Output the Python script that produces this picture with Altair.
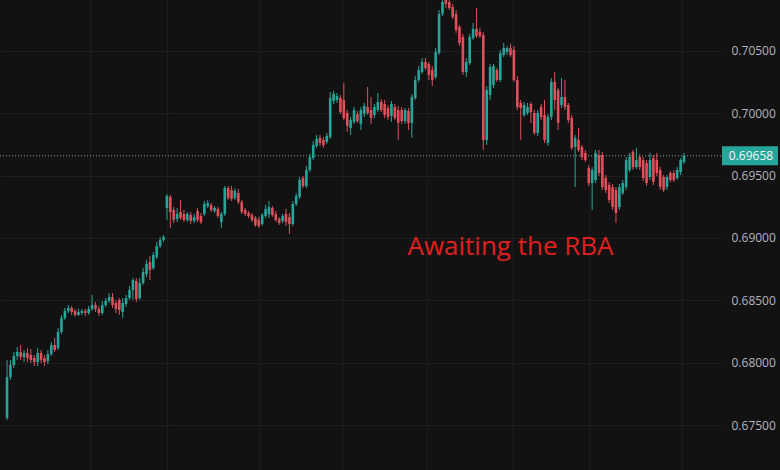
import altair as alt
import pandas as pd

# AUD/USD candles (oldest first)
opens = [
    0.67558, 0.67886, 0.67982, 0.68054, 0.68086, 0.68046, 0.68078, 0.68062, 0.68038, 0.68006,
    0.68078, 0.68038, 0.68014, 0.68070, 0.68142, 0.68118, 0.68247, 0.68359, 0.68415, 0.68439,
    0.68415, 0.68383, 0.68399, 0.68415, 0.68399, 0.68431, 0.68463, 0.68431, 0.68399, 0.68463,
    0.68495, 0.68527, 0.68479, 0.68503, 0.68407, 0.68471, 0.68519, 0.68583, 0.68655, 0.68519,
    0.68639, 0.68711, 0.68807, 0.68759, 0.68847, 0.68935, 0.68984, 0.69240, 0.69328, 0.69224,
    0.69152, 0.69208, 0.69192, 0.69144, 0.69184, 0.69136, 0.69216, 0.69176, 0.69192, 0.69256,
    0.69264, 0.69216, 0.69232, 0.69128, 0.69192, 0.69400, 0.69384, 0.69320, 0.69360, 0.69288,
    0.69224, 0.69200, 0.69184, 0.69160, 0.69144, 0.69112, 0.69176, 0.69192, 0.69240, 0.69192,
    0.69152, 0.69136, 0.69192, 0.69168, 0.69112, 0.69272, 0.69328, 0.69480, 0.69416, 0.69544,
    0.69640, 0.69737, 0.69801, 0.69785, 0.69769, 0.69809, 0.70097, 0.70105, 0.70121, 0.70105,
    0.70001, 0.69881, 0.69929, 0.69993, 0.69913, 0.69993, 0.70049, 0.70025, 0.69985, 0.70025,
    0.70089, 0.70073, 0.70041, 0.69977, 0.70049, 0.70025, 0.70025, 0.69937, 0.70017, 0.69921,
    0.70121, 0.70265, 0.70329, 0.70409, 0.70393, 0.70345, 0.70289, 0.70481, 0.70794, 0.70906,
    0.70890, 0.70850, 0.70794, 0.70690, 0.70610, 0.70329, 0.70401, 0.70602, 0.70674, 0.70650,
    0.70626, 0.69785, 0.70145, 0.70225, 0.70345, 0.70265, 0.70465, 0.70489, 0.70521, 0.70506,
    0.70265, 0.70081, 0.69985, 0.70001, 0.70073, 0.70001, 0.69841, 0.70049, 0.69985, 0.69761,
    0.69969, 0.70249, 0.70185, 0.70065, 0.70129, 0.70065, 0.69961, 0.69729, 0.69785, 0.69729,
    0.69681, 0.69560, 0.69440, 0.69464, 0.69664, 0.69664, 0.69480, 0.69424, 0.69408, 0.69384,
    0.69248, 0.69360, 0.69408, 0.69544, 0.69689, 0.69568, 0.69648, 0.69624, 0.69600, 0.69488,
    0.69640, 0.69624, 0.69544, 0.69488, 0.69408, 0.69520, 0.69520, 0.69480, 0.69528, 0.69608,
]
highs = [
    0.68022, 0.68022, 0.68086, 0.68126, 0.68142, 0.68102, 0.68118, 0.68110, 0.68062, 0.68118,
    0.68102, 0.68062, 0.68102, 0.68167, 0.68199, 0.68279, 0.68383, 0.68439, 0.68463, 0.68455,
    0.68431, 0.68431, 0.68431, 0.68431, 0.68455, 0.68543, 0.68487, 0.68455, 0.68495, 0.68519,
    0.68559, 0.68559, 0.68503, 0.68519, 0.68519, 0.68543, 0.68615, 0.68679, 0.68679, 0.68679,
    0.68759, 0.68823, 0.68855, 0.68887, 0.68967, 0.69008, 0.69024, 0.69352, 0.69344, 0.69248,
    0.69240, 0.69304, 0.69224, 0.69208, 0.69208, 0.69192, 0.69240, 0.69200, 0.69296, 0.69304,
    0.69280, 0.69256, 0.69248, 0.69208, 0.69416, 0.69416, 0.69416, 0.69400, 0.69392, 0.69304,
    0.69240, 0.69216, 0.69200, 0.69176, 0.69168, 0.69200, 0.69264, 0.69296, 0.69256, 0.69216,
    0.69168, 0.69192, 0.69232, 0.69200, 0.69296, 0.69360, 0.69488, 0.69496, 0.69576, 0.69673,
    0.69777, 0.69825, 0.69825, 0.69809, 0.69841, 0.70169, 0.70177, 0.70161, 0.70145, 0.70241,
    0.70025, 0.69969, 0.70049, 0.70017, 0.70049, 0.70081, 0.70209, 0.70129, 0.70073, 0.70161,
    0.70113, 0.70105, 0.70065, 0.70097, 0.70073, 0.70057, 0.70049, 0.70041, 0.70041, 0.70153,
    0.70297, 0.70377, 0.70441, 0.70441, 0.70409, 0.70377, 0.70521, 0.70826, 0.70906, 0.70930,
    0.70906, 0.70874, 0.70826, 0.70706, 0.70634, 0.70441, 0.70634, 0.70722, 0.70842, 0.70682,
    0.70650, 0.70217, 0.70393, 0.70393, 0.70361, 0.70506, 0.70562, 0.70538, 0.70554, 0.70538,
    0.70297, 0.70105, 0.70089, 0.70081, 0.70089, 0.70025, 0.70025, 0.70073, 0.70105, 0.69993,
    0.70281, 0.70329, 0.70201, 0.70281, 0.70265, 0.70081, 0.69985, 0.69825, 0.69881, 0.69745,
    0.69705, 0.69584, 0.69568, 0.69705, 0.69705, 0.69689, 0.69504, 0.69448, 0.69432, 0.69408,
    0.69432, 0.69464, 0.69648, 0.69681, 0.69705, 0.69721, 0.69673, 0.69648, 0.69624, 0.69681,
    0.69664, 0.69681, 0.69568, 0.69504, 0.69504, 0.69536, 0.69544, 0.69568, 0.69640, 0.69681,
]
lows = [
    0.67542, 0.67862, 0.67958, 0.68022, 0.68022, 0.68006, 0.68006, 0.67998, 0.67974, 0.67974,
    0.67998, 0.67974, 0.67990, 0.68054, 0.68086, 0.68102, 0.68231, 0.68343, 0.68399, 0.68383,
    0.68367, 0.68375, 0.68383, 0.68375, 0.68383, 0.68415, 0.68407, 0.68375, 0.68383, 0.68447,
    0.68479, 0.68439, 0.68399, 0.68383, 0.68359, 0.68447, 0.68503, 0.68503, 0.68487, 0.68503,
    0.68623, 0.68687, 0.68663, 0.68743, 0.68831, 0.68919, 0.68967, 0.69144, 0.69080, 0.69120,
    0.69128, 0.69144, 0.69128, 0.69128, 0.69112, 0.69120, 0.69128, 0.69112, 0.69176, 0.69240,
    0.69208, 0.69200, 0.69160, 0.69080, 0.69176, 0.69304, 0.69296, 0.69304, 0.69272, 0.69192,
    0.69176, 0.69160, 0.69128, 0.69088, 0.69080, 0.69096, 0.69160, 0.69160, 0.69168, 0.69128,
    0.69104, 0.69120, 0.69096, 0.69032, 0.69096, 0.69256, 0.69312, 0.69400, 0.69400, 0.69528,
    0.69624, 0.69721, 0.69737, 0.69721, 0.69753, 0.69793, 0.70073, 0.70081, 0.69993, 0.69945,
    0.69849, 0.69825, 0.69913, 0.69921, 0.69865, 0.69969, 0.69985, 0.69913, 0.69961, 0.70009,
    0.70009, 0.69961, 0.69945, 0.69929, 0.69945, 0.69785, 0.69913, 0.69913, 0.69865, 0.69801,
    0.70105, 0.70249, 0.70313, 0.70345, 0.70265, 0.70217, 0.70273, 0.70465, 0.70778, 0.70842,
    0.70826, 0.70754, 0.70642, 0.70538, 0.70305, 0.70289, 0.70385, 0.70586, 0.70602, 0.70602,
    0.69705, 0.69745, 0.70105, 0.70201, 0.70249, 0.70249, 0.70449, 0.70465, 0.70449, 0.70249,
    0.70025, 0.69785, 0.69969, 0.69985, 0.69921, 0.69825, 0.69817, 0.69945, 0.69761, 0.69737,
    0.69945, 0.70025, 0.69865, 0.70041, 0.70025, 0.69921, 0.69705, 0.69408, 0.69689, 0.69624,
    0.69608, 0.69416, 0.69224, 0.69440, 0.69496, 0.69384, 0.69360, 0.69280, 0.69224, 0.69120,
    0.69224, 0.69344, 0.69384, 0.69528, 0.69544, 0.69552, 0.69544, 0.69456, 0.69416, 0.69464,
    0.69424, 0.69496, 0.69384, 0.69368, 0.69384, 0.69448, 0.69448, 0.69464, 0.69504, 0.69592,
]
closes = [
    0.67886, 0.67982, 0.68054, 0.68086, 0.68046, 0.68078, 0.68038, 0.68022, 0.68006, 0.68078,
    0.68022, 0.68006, 0.68070, 0.68142, 0.68102, 0.68247, 0.68359, 0.68415, 0.68439, 0.68407,
    0.68383, 0.68407, 0.68415, 0.68399, 0.68431, 0.68463, 0.68431, 0.68399, 0.68463, 0.68495,
    0.68527, 0.68463, 0.68431, 0.68423, 0.68479, 0.68519, 0.68583, 0.68663, 0.68511, 0.68639,
    0.68727, 0.68791, 0.68743, 0.68863, 0.68935, 0.68984, 0.69008, 0.69336, 0.69208, 0.69144,
    0.69192, 0.69160, 0.69144, 0.69192, 0.69136, 0.69168, 0.69144, 0.69128, 0.69272, 0.69280,
    0.69224, 0.69240, 0.69176, 0.69192, 0.69400, 0.69320, 0.69312, 0.69376, 0.69288, 0.69208,
    0.69192, 0.69176, 0.69144, 0.69104, 0.69096, 0.69184, 0.69232, 0.69248, 0.69184, 0.69144,
    0.69120, 0.69176, 0.69128, 0.69112, 0.69272, 0.69336, 0.69464, 0.69416, 0.69544, 0.69648,
    0.69745, 0.69793, 0.69761, 0.69745, 0.69817, 0.70121, 0.70153, 0.70137, 0.70009, 0.69961,
    0.69897, 0.69945, 0.70025, 0.69937, 0.70025, 0.70057, 0.70001, 0.69961, 0.70049, 0.70089,
    0.70025, 0.69985, 0.69969, 0.70073, 0.69961, 0.69921, 0.69937, 0.70025, 0.69921, 0.70129,
    0.70265, 0.70345, 0.70409, 0.70361, 0.70305, 0.70265, 0.70489, 0.70794, 0.70890, 0.70874,
    0.70842, 0.70770, 0.70666, 0.70562, 0.70329, 0.70409, 0.70610, 0.70674, 0.70618, 0.70618,
    0.69785, 0.70185, 0.70369, 0.70377, 0.70265, 0.70481, 0.70521, 0.70521, 0.70465, 0.70265,
    0.70049, 0.70041, 0.70065, 0.70049, 0.70009, 0.69841, 0.70001, 0.69969, 0.69785, 0.69969,
    0.70249, 0.70105, 0.69921, 0.70129, 0.70049, 0.69945, 0.69721, 0.69801, 0.69705, 0.69648,
    0.69624, 0.69440, 0.69544, 0.69681, 0.69520, 0.69408, 0.69384, 0.69304, 0.69248, 0.69200,
    0.69408, 0.69440, 0.69624, 0.69648, 0.69568, 0.69624, 0.69568, 0.69480, 0.69440, 0.69624,
    0.69448, 0.69520, 0.69408, 0.69384, 0.69488, 0.69464, 0.69464, 0.69544, 0.69624, 0.69658,
]

# session boundaries (in bar units) drawn as vertical grid lines
session_breaks = [24.6, 47.2, 74.2, 98.8, 123.5, 148.7, 171.3, 198.5]
price_ticks = [0.675, 0.680, 0.685, 0.690, 0.695, 0.700, 0.705]
last_price = closes[-1]
note_text = "Awaiting the RBA"
note_bar = 148
note_price = 0.6893

BG = "#121212"
GRID = "#1f1f1f"
UP = "#26a69a"
DOWN = "#e0505a"
FONT = "Open Sans"

bars = pd.DataFrame({
    "bar": list(range(len(closes))),
    "open": opens,
    "high": highs,
    "low": lows,
    "close": closes,
})
bars["dir"] = ["up" if c >= o else "down" for o, c in zip(opens, closes)]

x_scale = alt.Scale(domain=[-0.6, 208.7], nice=False, zero=False)
y_scale = alt.Scale(domain=[0.67141, 0.70906], nice=False, zero=False)
y_axis = alt.Axis(
    orient="right", values=price_ticks, format=".5f", title=None,
    ticks=False, domain=False, grid=True, gridColor=GRID, gridWidth=1,
    labelColor="#b2b5bb", labelFont=FONT, labelFontSize=12, labelPadding=9,
)
color = alt.Color(
    "dir:N", legend=None,
    scale=alt.Scale(domain=["up", "down"], range=[UP, DOWN]),
)

vgrid = alt.Chart(pd.DataFrame({"bar": session_breaks})).mark_rule(
    color=GRID, strokeWidth=1
).encode(x=alt.X("bar:Q", scale=x_scale, axis=None))

wicks = alt.Chart(bars).mark_rule(strokeWidth=1, clip=True).encode(
    x=alt.X("bar:Q", scale=x_scale, axis=None),
    y=alt.Y("low:Q", scale=y_scale, axis=y_axis),
    y2="high:Q",
    color=color,
)

bodies = alt.Chart(bars).mark_bar(width=2.6, clip=True).encode(
    x=alt.X("bar:Q", scale=x_scale, axis=None),
    y=alt.Y("open:Q", scale=y_scale, axis=y_axis),
    y2="close:Q",
    color=color,
)

last = pd.DataFrame({"price": [last_price], "label": [f"{last_price:.5f}"]})

price_line = alt.Chart(last).mark_rule(
    color="#8aa5a1", strokeWidth=1, strokeDash=[1, 2]
).encode(
    x=alt.value(0), x2=alt.value(722),
    y=alt.Y("price:Q", scale=y_scale, axis=y_axis),
)

price_tag = alt.Chart(last).mark_rule(
    color=UP, strokeWidth=19, strokeCap="butt", clip=False
).encode(
    x=alt.value(722), x2=alt.value(778),
    y=alt.Y("price:Q", scale=y_scale, axis=y_axis),
)

price_text = alt.Chart(last).mark_text(
    color="#f2f7f6", font=FONT, fontSize=12, fontWeight=500, align="center",
    baseline="middle", clip=False,
).encode(
    x=alt.value(751),
    y=alt.Y("price:Q", scale=y_scale, axis=y_axis),
    text="label:N",
)

note = alt.Chart(pd.DataFrame({
    "bar": [note_bar], "price": [note_price], "text": [note_text]
})).mark_text(
    color="#e0201e", font=FONT, fontSize=26, fontWeight=500,
    align="center", baseline="middle",
).encode(
    x=alt.X("bar:Q", scale=x_scale, axis=None),
    y=alt.Y("price:Q", scale=y_scale, axis=y_axis),
    text="text:N",
)

chart = alt.layer(
    vgrid, price_line, wicks, bodies, price_tag, price_text, note
).properties(
    width=722, height=470,
    autosize=alt.AutoSizeParams(type="none"),
    padding={"left": 0, "top": 0, "right": 58, "bottom": 0},
    background=BG,
).configure_view(stroke=None)

chart.save("out.html", embed_options={"renderer": "svg", "actions": False})
